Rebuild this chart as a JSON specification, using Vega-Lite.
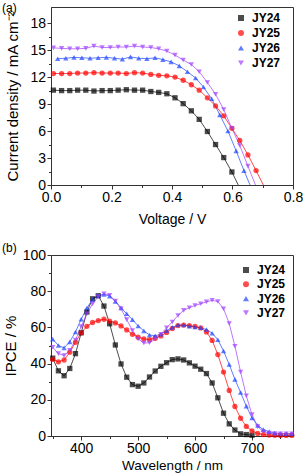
{
 "$schema": "https://vega.github.io/schema/vega-lite/v6.json",
 "padding": {"left": 1, "top": 1, "right": 5, "bottom": 2},
 "spacing": 14,
 "resolve": {"scale": {"color": "independent", "shape": "independent", "stroke": "independent"}, "legend": {"color": "independent", "shape": "independent"}},
 "config": {
  "font": "Liberation Sans",
  "view": {"stroke": "#333", "strokeWidth": 1},
  "axis": {"labelFont": "Liberation Sans", "labelFontSize": 14, "labelColor": "#000", "titleFont": "Liberation Sans", "titleFontSize": 14, "titleFontWeight": "normal", "titleColor": "#000", "domainColor": "#333", "tickColor": "#333", "grid": false, "labelPadding": 1.5, "labelFlush": false, "labelOverlap": false},
  "title": {"font": "Liberation Sans", "fontSize": 12, "fontWeight": "normal", "color": "#000"}
 },
 "datasets": {
  "jv": [
   {"s":"JY24","v":0.008,"j":10.55},{"s":"JY24","v":0.035,"j":10.5},{"s":"JY24","v":0.062,"j":10.5},{"s":"JY24","v":0.088,"j":10.55},{"s":"JY24","v":0.115,"j":10.55},{"s":"JY24","v":0.142,"j":10.45},{"s":"JY24","v":0.169,"j":10.5},{"s":"JY24","v":0.196,"j":10.5},{"s":"JY24","v":0.222,"j":10.55},{"s":"JY24","v":0.249,"j":10.6},{"s":"JY24","v":0.276,"j":10.55},{"s":"JY24","v":0.303,"j":10.55},{"s":"JY24","v":0.330,"j":10.4},{"s":"JY24","v":0.356,"j":10.3},{"s":"JY24","v":0.383,"j":10.15},{"s":"JY24","v":0.410,"j":9.7},{"s":"JY24","v":0.437,"j":9.05},{"s":"JY24","v":0.464,"j":8.25},{"s":"JY24","v":0.490,"j":7.3},{"s":"JY24","v":0.517,"j":5.95},{"s":"JY24","v":0.544,"j":4.5},{"s":"JY24","v":0.571,"j":3.05},{"s":"JY24","v":0.598,"j":1.45},{"s":"JY24","v":0.619,"j":0},
   {"s":"JY25","v":0.008,"j":12.4},{"s":"JY25","v":0.035,"j":12.4},{"s":"JY25","v":0.062,"j":12.4},{"s":"JY25","v":0.088,"j":12.45},{"s":"JY25","v":0.115,"j":12.45},{"s":"JY25","v":0.142,"j":12.5},{"s":"JY25","v":0.169,"j":12.45},{"s":"JY25","v":0.196,"j":12.45},{"s":"JY25","v":0.222,"j":12.45},{"s":"JY25","v":0.249,"j":12.4},{"s":"JY25","v":0.276,"j":12.5},{"s":"JY25","v":0.303,"j":12.45},{"s":"JY25","v":0.330,"j":12.3},{"s":"JY25","v":0.356,"j":12.2},{"s":"JY25","v":0.383,"j":12.15},{"s":"JY25","v":0.410,"j":12.0},{"s":"JY25","v":0.437,"j":11.65},{"s":"JY25","v":0.464,"j":11.15},{"s":"JY25","v":0.490,"j":10.55},{"s":"JY25","v":0.517,"j":9.7},{"s":"JY25","v":0.544,"j":8.8},{"s":"JY25","v":0.571,"j":7.7},{"s":"JY25","v":0.598,"j":6.3},{"s":"JY25","v":0.624,"j":4.95},{"s":"JY25","v":0.651,"j":3.35},{"s":"JY25","v":0.678,"j":1.6},{"s":"JY25","v":0.702,"j":0},
   {"s":"JY26","v":0.022,"j":14.05},{"s":"JY26","v":0.049,"j":14.1},{"s":"JY26","v":0.076,"j":14.2},{"s":"JY26","v":0.102,"j":14.15},{"s":"JY26","v":0.129,"j":14.1},{"s":"JY26","v":0.156,"j":14.15},{"s":"JY26","v":0.183,"j":14.2},{"s":"JY26","v":0.210,"j":14.1},{"s":"JY26","v":0.236,"j":14.0},{"s":"JY26","v":0.263,"j":14.25},{"s":"JY26","v":0.290,"j":14.1},{"s":"JY26","v":0.317,"j":14.05},{"s":"JY26","v":0.344,"j":14.15},{"s":"JY26","v":0.370,"j":13.95},{"s":"JY26","v":0.397,"j":13.7},{"s":"JY26","v":0.424,"j":13.25},{"s":"JY26","v":0.451,"j":12.6},{"s":"JY26","v":0.478,"j":11.9},{"s":"JY26","v":0.504,"j":10.9},{"s":"JY26","v":0.531,"j":9.6},{"s":"JY26","v":0.558,"j":7.8},{"s":"JY26","v":0.585,"j":6.0},{"s":"JY26","v":0.612,"j":3.8},{"s":"JY26","v":0.638,"j":1.6},{"s":"JY26","v":0.658,"j":0},
   {"s":"JY27","v":0.008,"j":15.25},{"s":"JY27","v":0.035,"j":15.2},{"s":"JY27","v":0.062,"j":15.15},{"s":"JY27","v":0.088,"j":15.15},{"s":"JY27","v":0.115,"j":15.2},{"s":"JY27","v":0.142,"j":15.45},{"s":"JY27","v":0.169,"j":15.3},{"s":"JY27","v":0.196,"j":15.3},{"s":"JY27","v":0.222,"j":15.35},{"s":"JY27","v":0.249,"j":15.35},{"s":"JY27","v":0.276,"j":15.45},{"s":"JY27","v":0.303,"j":15.35},{"s":"JY27","v":0.330,"j":15.3},{"s":"JY27","v":0.356,"j":15.15},{"s":"JY27","v":0.383,"j":14.9},{"s":"JY27","v":0.410,"j":14.45},{"s":"JY27","v":0.437,"j":13.9},{"s":"JY27","v":0.464,"j":13.4},{"s":"JY27","v":0.490,"j":12.6},{"s":"JY27","v":0.517,"j":11.4},{"s":"JY27","v":0.544,"j":10.1},{"s":"JY27","v":0.571,"j":8.4},{"s":"JY27","v":0.598,"j":6.3},{"s":"JY27","v":0.624,"j":4.4},{"s":"JY27","v":0.651,"j":2.1},{"s":"JY27","v":0.676,"j":0}
  ],
  "ipce": [
   {"s":"JY24","w":350,"p":43},{"s":"JY24","w":360,"p":36},{"s":"JY24","w":370,"p":33.3},{"s":"JY24","w":380,"p":37.3},{"s":"JY24","w":390,"p":45.5},{"s":"JY24","w":400,"p":57},{"s":"JY24","w":410,"p":68.5},{"s":"JY24","w":420,"p":75.8},{"s":"JY24","w":430,"p":77.5},{"s":"JY24","w":440,"p":71.8},{"s":"JY24","w":450,"p":62},{"s":"JY24","w":460,"p":50.3},{"s":"JY24","w":470,"p":39.8},{"s":"JY24","w":480,"p":32.5},{"s":"JY24","w":490,"p":28.4},{"s":"JY24","w":500,"p":27.5},{"s":"JY24","w":510,"p":29.3},{"s":"JY24","w":520,"p":32.6},{"s":"JY24","w":530,"p":35.9},{"s":"JY24","w":540,"p":38.5},{"s":"JY24","w":550,"p":40.5},{"s":"JY24","w":560,"p":42.2},{"s":"JY24","w":570,"p":42.6},{"s":"JY24","w":580,"p":42},{"s":"JY24","w":590,"p":40.4},{"s":"JY24","w":600,"p":38.6},{"s":"JY24","w":610,"p":36.9},{"s":"JY24","w":620,"p":34.5},{"s":"JY24","w":630,"p":29.3},{"s":"JY24","w":640,"p":21.1},{"s":"JY24","w":650,"p":12.6},{"s":"JY24","w":660,"p":6.7},{"s":"JY24","w":670,"p":3.3},{"s":"JY24","w":680,"p":1.2},{"s":"JY24","w":690,"p":0.8},{"s":"JY24","w":700,"p":0.4},
   {"s":"JY25","w":350,"p":42.3},{"s":"JY25","w":360,"p":41},{"s":"JY25","w":370,"p":42},{"s":"JY25","w":380,"p":46.3},{"s":"JY25","w":390,"p":51.8},{"s":"JY25","w":400,"p":57},{"s":"JY25","w":410,"p":60.6},{"s":"JY25","w":420,"p":62.7},{"s":"JY25","w":430,"p":63.8},{"s":"JY25","w":440,"p":64.5},{"s":"JY25","w":450,"p":63.5},{"s":"JY25","w":460,"p":62.5},{"s":"JY25","w":470,"p":60.8},{"s":"JY25","w":480,"p":58.6},{"s":"JY25","w":490,"p":56.2},{"s":"JY25","w":500,"p":54.6},{"s":"JY25","w":510,"p":53.6},{"s":"JY25","w":520,"p":53.3},{"s":"JY25","w":530,"p":54},{"s":"JY25","w":540,"p":55.3},{"s":"JY25","w":550,"p":57.2},{"s":"JY25","w":560,"p":59.4},{"s":"JY25","w":570,"p":61},{"s":"JY25","w":580,"p":61.3},{"s":"JY25","w":590,"p":61},{"s":"JY25","w":600,"p":60.5},{"s":"JY25","w":610,"p":59.7},{"s":"JY25","w":620,"p":57.5},{"s":"JY25","w":630,"p":52.8},{"s":"JY25","w":640,"p":45},{"s":"JY25","w":650,"p":35.3},{"s":"JY25","w":660,"p":25.2},{"s":"JY25","w":670,"p":16.3},{"s":"JY25","w":680,"p":9.8},{"s":"JY25","w":690,"p":5.3},{"s":"JY25","w":700,"p":2.8},{"s":"JY25","w":710,"p":1.4},{"s":"JY25","w":720,"p":0.8},{"s":"JY25","w":730,"p":0.5},{"s":"JY25","w":740,"p":0.4},{"s":"JY25","w":750,"p":0.3},{"s":"JY25","w":760,"p":0.3},{"s":"JY25","w":770,"p":0.3},
   {"s":"JY26","w":350,"p":53.5},{"s":"JY26","w":360,"p":50},{"s":"JY26","w":370,"p":48.7},{"s":"JY26","w":380,"p":52},{"s":"JY26","w":390,"p":57.5},{"s":"JY26","w":400,"p":64.5},{"s":"JY26","w":410,"p":70.7},{"s":"JY26","w":420,"p":75.5},{"s":"JY26","w":430,"p":77.6},{"s":"JY26","w":440,"p":78.2},{"s":"JY26","w":450,"p":77.3},{"s":"JY26","w":460,"p":74.4},{"s":"JY26","w":470,"p":70.8},{"s":"JY26","w":480,"p":67.5},{"s":"JY26","w":490,"p":64.3},{"s":"JY26","w":500,"p":60.8},{"s":"JY26","w":510,"p":58.1},{"s":"JY26","w":520,"p":55.8},{"s":"JY26","w":530,"p":55.4},{"s":"JY26","w":540,"p":56.2},{"s":"JY26","w":550,"p":58.2},{"s":"JY26","w":560,"p":60},{"s":"JY26","w":570,"p":61.3},{"s":"JY26","w":580,"p":61.3},{"s":"JY26","w":590,"p":60.7},{"s":"JY26","w":600,"p":60.3},{"s":"JY26","w":610,"p":59.8},{"s":"JY26","w":620,"p":58.8},{"s":"JY26","w":630,"p":56.8},{"s":"JY26","w":640,"p":53.2},{"s":"JY26","w":650,"p":47},{"s":"JY26","w":660,"p":39.5},{"s":"JY26","w":670,"p":31.3},{"s":"JY26","w":680,"p":24},{"s":"JY26","w":690,"p":16.5},{"s":"JY26","w":700,"p":10},{"s":"JY26","w":710,"p":5.8},{"s":"JY26","w":720,"p":3.5},{"s":"JY26","w":730,"p":2.4},{"s":"JY26","w":740,"p":1.7},{"s":"JY26","w":750,"p":1.4},{"s":"JY26","w":760,"p":1.3},{"s":"JY26","w":770,"p":1.3},
   {"s":"JY27","w":350,"p":49},{"s":"JY27","w":360,"p":45.5},{"s":"JY27","w":370,"p":44.5},{"s":"JY27","w":380,"p":47.3},{"s":"JY27","w":390,"p":53},{"s":"JY27","w":400,"p":60.5},{"s":"JY27","w":410,"p":67.5},{"s":"JY27","w":420,"p":73},{"s":"JY27","w":430,"p":77},{"s":"JY27","w":440,"p":78.6},{"s":"JY27","w":450,"p":77.8},{"s":"JY27","w":460,"p":74.5},{"s":"JY27","w":470,"p":70.3},{"s":"JY27","w":480,"p":64.3},{"s":"JY27","w":490,"p":58.3},{"s":"JY27","w":500,"p":53.6},{"s":"JY27","w":510,"p":51.4},{"s":"JY27","w":520,"p":51.5},{"s":"JY27","w":530,"p":53.5},{"s":"JY27","w":540,"p":56.2},{"s":"JY27","w":550,"p":59.8},{"s":"JY27","w":560,"p":63},{"s":"JY27","w":570,"p":66.6},{"s":"JY27","w":580,"p":69.4},{"s":"JY27","w":590,"p":70.9},{"s":"JY27","w":600,"p":72.1},{"s":"JY27","w":610,"p":73.1},{"s":"JY27","w":620,"p":74.1},{"s":"JY27","w":630,"p":75},{"s":"JY27","w":640,"p":74.3},{"s":"JY27","w":650,"p":70.3},{"s":"JY27","w":660,"p":62.2},{"s":"JY27","w":670,"p":49.6},{"s":"JY27","w":680,"p":35.4},{"s":"JY27","w":690,"p":22.2},{"s":"JY27","w":700,"p":11.8},{"s":"JY27","w":710,"p":5.2},{"s":"JY27","w":720,"p":2.3},{"s":"JY27","w":730,"p":1.6},{"s":"JY27","w":740,"p":1.3},{"s":"JY27","w":750,"p":1.2},{"s":"JY27","w":760,"p":1.2},{"s":"JY27","w":770,"p":1.2}
  ]
 },
 "vconcat": [
  {
   "width": 242, "height": 178,
   "title": {"text": "(a)", "anchor": "start", "frame": "group", "orient": "top", "baseline": "middle", "offset": -12.5, "dx": -49},
   "data": {"name": "jv"},
   "encoding": {
    "x": {"field": "v", "type": "quantitative", "scale": {"domain": [0, 0.8], "nice": false, "zero": false},
          "axis": {"title": "Voltage / V", "values": [0,0.1,0.2,0.3,0.4,0.5,0.6,0.7,0.8], "format": ".1f", "labelExpr": "round(datum.value*10) % 2 === 0 ? datum.label : ''", "tickSize": {"condition": {"test": "round(datum.value*10) % 2 === 0", "value": 4}, "value": 2.5}, "labelOverlap": false, "titleY": 27, "titleBaseline": "top"}},
    "y": {"field": "j", "type": "quantitative", "scale": {"domain": [0, 19.8], "nice": false},
          "axis": {"title": "Current density / mA cm⁻²", "titleFontSize": 15, "values": [0,1.5,3,4.5,6,7.5,9,10.5,12,13.5,15,16.5,18], "format": "d", "labelExpr": "datum.value % 3 === 0 ? datum.label : ''", "tickSize": {"condition": {"test": "datum.value % 3 === 0", "value": 4}, "value": 2.5}, "labelOverlap": false, "titleX": -31}}
   },
   "layer": [
    {
     "mark": {"type": "line", "strokeWidth": 1, "opacity": 0.7},
     "encoding": {
      "stroke": {"field": "s", "type": "nominal", "scale": {"domain": ["JY27","JY26","JY25","JY24"], "range": ["#a040ff","#1e46ff","#ff0000","#000000"]}, "legend": null}
     }
    },
    {
     "transform": [{"filter": "datum.j > 0"}],
     "mark": {"type": "point", "filled": true, "size": 28},
     "encoding": {
      "color": {"field": "s", "type": "nominal", "scale": {"domain": ["JY24","JY25","JY26","JY27"], "range": ["#000000","#ff0000","#1e46ff","#a040ff"]},
        "legend": {"title": null, "orient": "none", "legendX": 184, "legendY": 5, "padding": 0, "labelFont": "Liberation Sans", "labelFontSize": 12, "labelFontWeight": "bold", "labelColor": "#000", "labelOffset": 5, "rowPadding": 3, "symbolSize": 36,
          "encode": {"symbols": {"update": {"shape": {"condition": [
            {"test": "datum.value === 'JY24'", "value": "M-3.17,-0.17H3.17V0.17H-3.17Z M-1,-1H1V1H-1Z"},
            {"test": "datum.value === 'JY25'", "value": "M-3.17,-0.17H3.17V0.17H-3.17Z M1.1,0A1.1,1.1 0 1,1 -1.1,0A1.1,1.1 0 1,1 1.1,0Z"},
            {"test": "datum.value === 'JY26'", "value": "M-3.17,-0.17H3.17V0.17H-3.17Z M0,-1.2L1.2,0.9H-1.2Z"}],
            "value": "M-3.17,-0.17H3.17V0.17H-3.17Z M0,1.2L-1.2,-0.9H1.2Z"}}}}}},
      "shape": {"field": "s", "type": "nominal", "scale": {"domain": ["JY24","JY25","JY26","JY27"], "range": ["square","circle","triangle-up","triangle-down"]},
        "legend": {"title": null, "orient": "none", "legendX": 184, "legendY": 5, "padding": 0, "labelFont": "Liberation Sans", "labelFontSize": 12, "labelFontWeight": "bold", "labelColor": "#000", "labelOffset": 5, "rowPadding": 3, "symbolSize": 36,
          "encode": {"symbols": {"update": {"shape": {"condition": [
            {"test": "datum.value === 'JY24'", "value": "M-3.17,-0.17H3.17V0.17H-3.17Z M-1,-1H1V1H-1Z"},
            {"test": "datum.value === 'JY25'", "value": "M-3.17,-0.17H3.17V0.17H-3.17Z M1.1,0A1.1,1.1 0 1,1 -1.1,0A1.1,1.1 0 1,1 1.1,0Z"},
            {"test": "datum.value === 'JY26'", "value": "M-3.17,-0.17H3.17V0.17H-3.17Z M0,-1.2L1.2,0.9H-1.2Z"}],
            "value": "M-3.17,-0.17H3.17V0.17H-3.17Z M0,1.2L-1.2,-0.9H1.2Z"}}}}}}
     }
    }
   ]
  },
  {
   "width": 242, "height": 181,
   "title": {"text": "(b)", "anchor": "start", "frame": "group", "orient": "top", "baseline": "middle", "offset": -12, "dx": -49},
   "data": {"name": "ipce"},
   "encoding": {
    "x": {"field": "w", "type": "quantitative", "scale": {"domain": [347, 772], "nice": false, "zero": false},
          "axis": {"title": "Wavelength / nm", "titleFontSize": 13.5, "values": [350,400,450,500,550,600,650,700,750], "format": "d", "labelExpr": "datum.value % 100 === 0 ? datum.label : ''", "tickSize": {"condition": {"test": "datum.value % 100 === 0", "value": 4}, "value": 2.5}, "labelOverlap": false, "titleY": 22, "titleBaseline": "top"}},
    "y": {"field": "p", "type": "quantitative", "scale": {"domain": [0, 100], "nice": false},
          "axis": {"title": "IPCE / %", "titleFontSize": 15, "values": [0,10,20,30,40,50,60,70,80,90,100], "format": "d", "labelExpr": "datum.value % 20 === 0 ? datum.label : ''", "tickSize": {"condition": {"test": "datum.value % 20 === 0", "value": 4}, "value": 2.5}, "labelOverlap": false, "titleX": -33}}
   },
   "layer": [
    {
     "mark": {"type": "line", "strokeWidth": 1, "opacity": 0.7},
     "encoding": {
      "stroke": {"field": "s", "type": "nominal", "scale": {"domain": ["JY27","JY26","JY25","JY24"], "range": ["#a040ff","#1e46ff","#ff0000","#000000"]}, "legend": null}
     }
    },
    {
     "mark": {"type": "point", "filled": true, "size": 28},
     "encoding": {
      "color": {"field": "s", "type": "nominal", "scale": {"domain": ["JY24","JY25","JY26","JY27"], "range": ["#000000","#ff0000","#1e46ff","#a040ff"]},
        "legend": {"title": null, "orient": "none", "legendX": 189, "legendY": 9, "padding": 0, "labelFont": "Liberation Sans", "labelFontSize": 12, "labelFontWeight": "bold", "labelColor": "#000", "labelOffset": 5, "rowPadding": 2.3, "symbolSize": 36,
          "encode": {"symbols": {"update": {"shape": {"condition": [
            {"test": "datum.value === 'JY24'", "value": "M-3.17,-0.17H3.17V0.17H-3.17Z M-1,-1H1V1H-1Z"},
            {"test": "datum.value === 'JY25'", "value": "M-3.17,-0.17H3.17V0.17H-3.17Z M1.1,0A1.1,1.1 0 1,1 -1.1,0A1.1,1.1 0 1,1 1.1,0Z"},
            {"test": "datum.value === 'JY26'", "value": "M-3.17,-0.17H3.17V0.17H-3.17Z M0,-1.2L1.2,0.9H-1.2Z"}],
            "value": "M-3.17,-0.17H3.17V0.17H-3.17Z M0,1.2L-1.2,-0.9H1.2Z"}}}}}},
      "shape": {"field": "s", "type": "nominal", "scale": {"domain": ["JY24","JY25","JY26","JY27"], "range": ["square","circle","triangle-up","triangle-down"]},
        "legend": {"title": null, "orient": "none", "legendX": 189, "legendY": 9, "padding": 0, "labelFont": "Liberation Sans", "labelFontSize": 12, "labelFontWeight": "bold", "labelColor": "#000", "labelOffset": 5, "rowPadding": 2.3, "symbolSize": 36,
          "encode": {"symbols": {"update": {"shape": {"condition": [
            {"test": "datum.value === 'JY24'", "value": "M-3.17,-0.17H3.17V0.17H-3.17Z M-1,-1H1V1H-1Z"},
            {"test": "datum.value === 'JY25'", "value": "M-3.17,-0.17H3.17V0.17H-3.17Z M1.1,0A1.1,1.1 0 1,1 -1.1,0A1.1,1.1 0 1,1 1.1,0Z"},
            {"test": "datum.value === 'JY26'", "value": "M-3.17,-0.17H3.17V0.17H-3.17Z M0,-1.2L1.2,0.9H-1.2Z"}],
            "value": "M-3.17,-0.17H3.17V0.17H-3.17Z M0,1.2L-1.2,-0.9H1.2Z"}}}}}}
     }
    }
   ]
  }
 ]
}
